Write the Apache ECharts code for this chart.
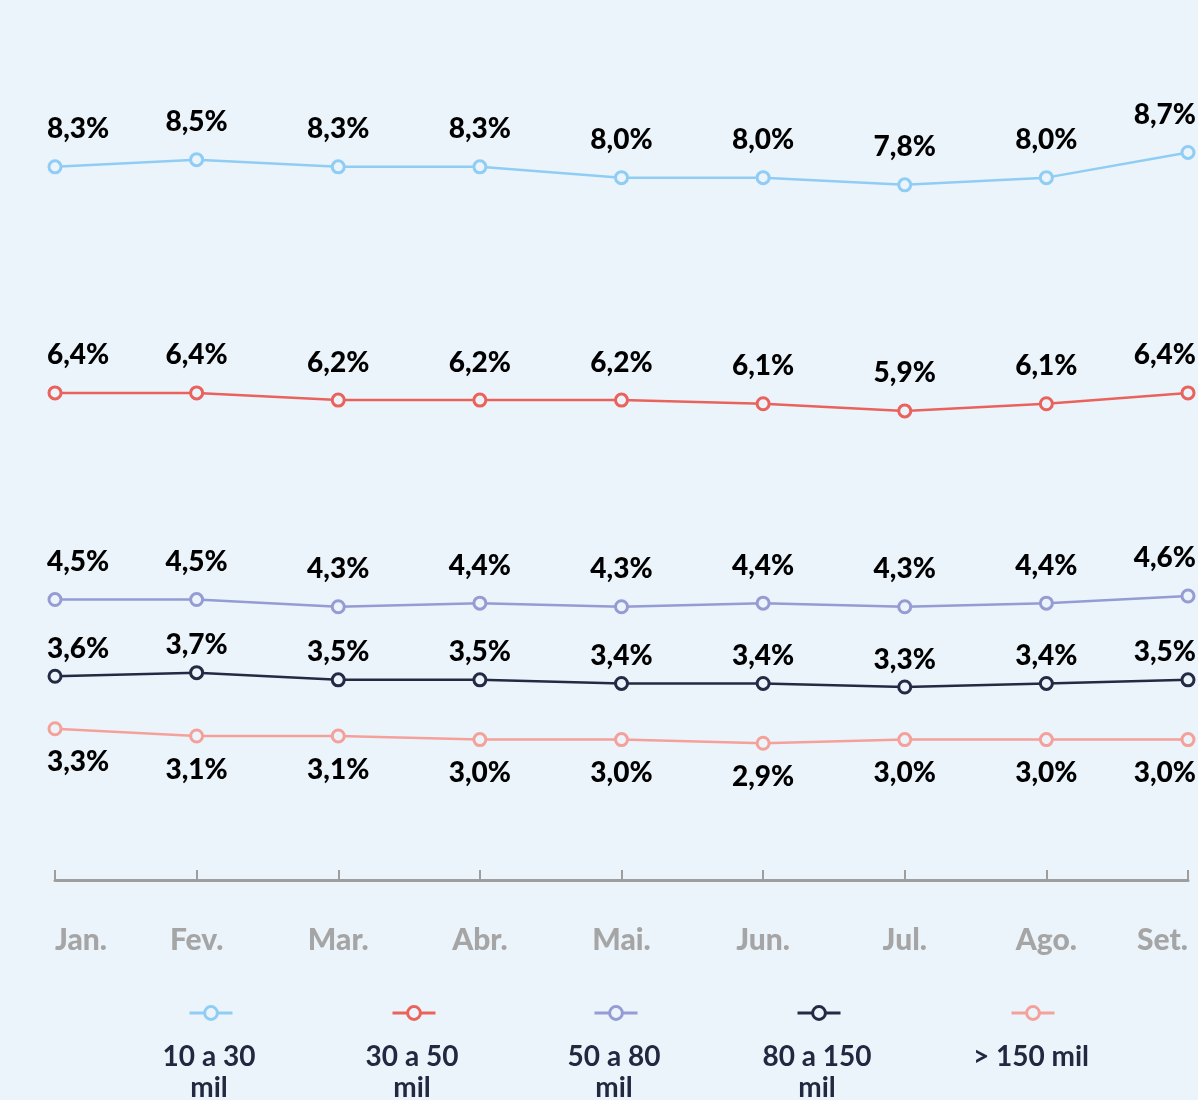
<!DOCTYPE html>
<html>
<head>
<meta charset="utf-8">
<script src="https://cdn.jsdelivr.net/npm/echarts@6/dist/echarts.min.js"></script>
<style>
  html, body { margin: 0; padding: 0; background: #ECF4FB; }
  #chart { width: 1198px; height: 1100px; }
</style>
</head>
<body>
<div id="chart"></div>
<script>
const months = ['Jan.', 'Fev.', 'Mar.', 'Abr.', 'Mai.', 'Jun.', 'Jul.', 'Ago.', 'Set.']
const faixas = ['10 a 30 mil', '30 a 50 mil', '50 a 80 mil', '80 a 150 mil', '> 150 mil']
const s10a30 = [8.3, 8.5, 8.3, 8.3, 8.0, 8.0, 7.8, 8.0, 8.7]
const s30a50 = [6.4, 6.4, 6.2, 6.2, 6.2, 6.1, 5.9, 6.1, 6.4]
const s50a80 = [4.5, 4.5, 4.3, 4.4, 4.3, 4.4, 4.3, 4.4, 4.6]
const s80a150 = [3.6, 3.7, 3.5, 3.5, 3.4, 3.4, 3.3, 3.4, 3.5]
const sAcima150 = [3.3, 3.1, 3.1, 3.0, 3.0, 2.9, 3.0, 3.0, 3.0]

const bg = '#ECF4FB'
const colors = ['#8FCDF4', '#E9625C', '#959BD3', '#232A43', '#F4A19B']
// each line sits on its own hidden axis, same px per unit, different offset
const axisMins = [-11.51, -7.13, -3.29, -2.06, -0.9]
const axisSpan = 840 / 36
const labelPos = ['top', 'top', 'top', 'top', 'bottom']
const labelDist = [16, 16, 16, 6, 12]
const legendX = [209, 412, 614, 817, 1031]

const chart = echarts.init(document.getElementById('chart'))

const fmt = v => v.toFixed(1).replace('.', ',') + '%'

function buildData(values) {
  return values.map((v, i) => {
    let item = { value: v }
    if (i === 0) item.label = { align: 'left', offset: [-8, 0] }
    if (i === values.length - 1) item.label = { align: 'right', offset: [8, 0] }
    return item
  })
}

const allSeries = [s10a30, s30a50, s50a80, s80a150, sAcima150]

const series = allSeries.map((vals, k) => ({
  name: faixas[k],
  type: 'line',
  yAxisIndex: k,
  data: buildData(vals),
  symbol: 'circle',
  symbolSize: 12,
  lineStyle: { color: colors[k], width: 2.5 },
  itemStyle: { color: bg, borderColor: colors[k], borderWidth: 3 },
  label: {
    show: true,
    position: labelPos[k],
    distance: labelDist[k],
    formatter: p => fmt(p.value),
    color: '#000',
    fontFamily: 'Lato',
    fontWeight: 900,
    fontSize: 28
  },
  emphasis: { disabled: true },
  animation: false
}))

const yAxes = axisMins.map(m => ({
  type: 'value',
  show: false,
  min: m,
  max: m + axisSpan
}))

const legends = faixas.map((f, k) => ({
  data: [f],
  left: legendX[k] - 21,
  top: 1005,
  padding: 0,
  itemWidth: 43,
  itemHeight: 16,
  lineStyle: { width: 3 },
  itemStyle: { borderWidth: 3 },
  formatter: () => '',
  selectedMode: false
}))

// long names wrap before "mil", like the original
const legendTexts = faixas.map((f, k) => ({
  type: 'text',
  x: legendX[k],
  y: 1041,
  style: {
    text: f.length > 9 ? f.replace(/ mil$/, '\nmil') : f,
    align: 'center',
    verticalAlign: 'top',
    fill: '#22283F',
    font: 'bold 28px Lato',
    lineHeight: 31
  }
}))

const option = {
  backgroundColor: bg,
  grid: { left: 55, right: 10, top: 40, bottom: 220 },
  legend: legends,
  graphic: legendTexts,
  xAxis: {
    type: 'category',
    data: months,
    boundaryGap: false,
    axisLine: { onZero: false, lineStyle: { color: '#9E9E9E', width: 3 } },
    axisTick: { inside: true, length: 10, lineStyle: { color: '#9E9E9E', width: 2 } },
    axisLabel: {
      color: '#A5A5A5',
      fontFamily: 'Lato',
      fontWeight: 900,
      fontSize: 30,
      margin: 45,
      alignMinLabel: 'left',
      alignMaxLabel: 'right'
    },
    splitLine: { show: false }
  },
  yAxis: yAxes,
  series: series
}

chart.setOption(option)
</script>
</body>
</html>
